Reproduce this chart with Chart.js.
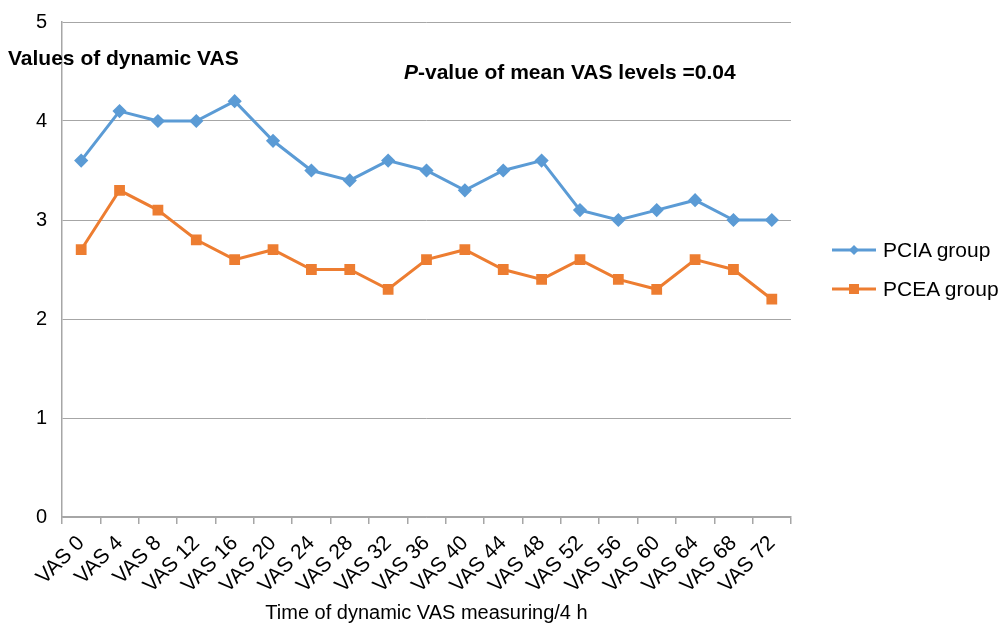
<!DOCTYPE html>
<html>
<head>
<meta charset="utf-8">
<script src="https://cdn.jsdelivr.net/npm/chart.js@4"></script>
<style>
  body { margin: 0; background: #fff; font-family: "Liberation Sans", Arial, sans-serif; }
  #wrap { position: relative; width: 1000px; height: 629px; }
  .note { position: absolute; font-weight: bold; font-size: 21px; line-height: 24px; color: #000; white-space: nowrap; }
  .leg { position: absolute; left: 832px; font-size: 21px; line-height: 24px; color: #000; display: flex; align-items: center; white-space: nowrap; }
  .leg canvas { margin-right: 7px; }
</style>
</head>
<body>
<div id="wrap">
  <canvas id="vasChart" width="1000" height="629"></canvas>
  <div class="note" style="left:8px; top:46px;">Values of dynamic VAS</div>
  <div class="note" style="left:404px; top:60px;"><i>P</i>-value of mean VAS levels =0.04</div>
  <div class="leg" style="top:238px;"><canvas id="legA" width="44" height="20"></canvas>PCIA group</div>
  <div class="leg" style="top:277px;"><canvas id="legB" width="44" height="20"></canvas>PCEA group</div>
</div>
<script>
const categories = ['VAS 0', 'VAS 4', 'VAS 8', 'VAS 12', 'VAS 16', 'VAS 20', 'VAS 24', 'VAS 28', 'VAS 32', 'VAS 36',
  'VAS 40', 'VAS 44', 'VAS 48', 'VAS 52', 'VAS 56', 'VAS 60', 'VAS 64', 'VAS 68', 'VAS 72'];
const pciaValues = [3.6, 4.1, 4.0, 4.0, 4.2, 3.8, 3.5, 3.4, 3.6, 3.5, 3.3, 3.5, 3.6, 3.1, 3.0, 3.1, 3.2, 3.0, 3.0];
const pceaValues = [2.7, 3.3, 3.1, 2.8, 2.6, 2.7, 2.5, 2.5, 2.3, 2.6, 2.7, 2.5, 2.4, 2.6, 2.4, 2.3, 2.6, 2.5, 2.2];
const yTicks = [0, 1, 2, 3, 4, 5];

const blue = '#5b9bd5';
const orange = '#ed7d31';
const axisGray = '#a6a6a6';
const font = { family: '"Liberation Sans", Arial, sans-serif', size: 20 };

new Chart(document.getElementById('vasChart'), {
  type: 'line',
  data: {
    labels: categories,
    datasets: [
      {
        label: 'PCIA group',
        data: pciaValues,
        borderColor: blue,
        backgroundColor: blue,
        borderWidth: 3,
        pointStyle: 'rectRot',
        pointRadius: 5,
        pointHoverRadius: 5,
        tension: 0
      },
      {
        label: 'PCEA group',
        data: pceaValues,
        borderColor: orange,
        backgroundColor: orange,
        borderWidth: 3,
        pointStyle: 'rect',
        pointRadius: 5.5,
        pointHoverRadius: 5.5,
        tension: 0
      }
    ]
  },
  options: {
    responsive: false,
    animation: false,
    layout: { padding: { top: 22, right: 209, left: 0, bottom: 0 } },
    plugins: {
      legend: { display: false },
      tooltip: { enabled: false }
    },
    scales: {
      x: {
        offset: true,
        grid: { offset: true, drawOnChartArea: false, drawTicks: true, tickLength: 7, color: axisGray, lineWidth: 1.5 },
        border: { color: axisGray, width: 1.5 },
        ticks: { color: '#000', font: { family: font.family, size: 21 }, maxRotation: 45, minRotation: 45, autoSkip: false, padding: 7 },
        title: { display: true, text: 'Time of dynamic VAS measuring/4 h', color: '#000', font: font, padding: { top: 4, bottom: 4 } },
        afterFit: s => { s.height = 112; s.paddingLeft = 0; s.paddingRight = 0; }
      },
      y: {
        min: 0,
        max: 5,
        afterBuildTicks: s => { s.ticks = yTicks.map(v => ({ value: v })); },
        grid: { color: axisGray, lineWidth: 1, drawTicks: false },
        border: { color: axisGray, width: 1.5 },
        ticks: { color: '#000', font: font, padding: 15 },
        afterFit: s => { s.width = 62; s.paddingTop = 0; s.paddingBottom = 0; }
      }
    }
  }
});

// legend swatches: line with marker
function swatch(id, color, shape) {
  const c = document.getElementById(id).getContext('2d');
  c.strokeStyle = color;
  c.fillStyle = color;
  c.lineWidth = 3;
  c.beginPath();
  c.moveTo(0, 10);
  c.lineTo(44, 10);
  c.stroke();
  if (shape === 'diamond') {
    c.beginPath();
    c.moveTo(22, 5); c.lineTo(27, 10); c.lineTo(22, 15); c.lineTo(17, 10);
    c.closePath();
    c.fill();
  } else {
    c.fillRect(17, 5, 10, 10);
  }
}
swatch('legA', blue, 'diamond');
swatch('legB', orange, 'rect');
</script>
</body>
</html>
